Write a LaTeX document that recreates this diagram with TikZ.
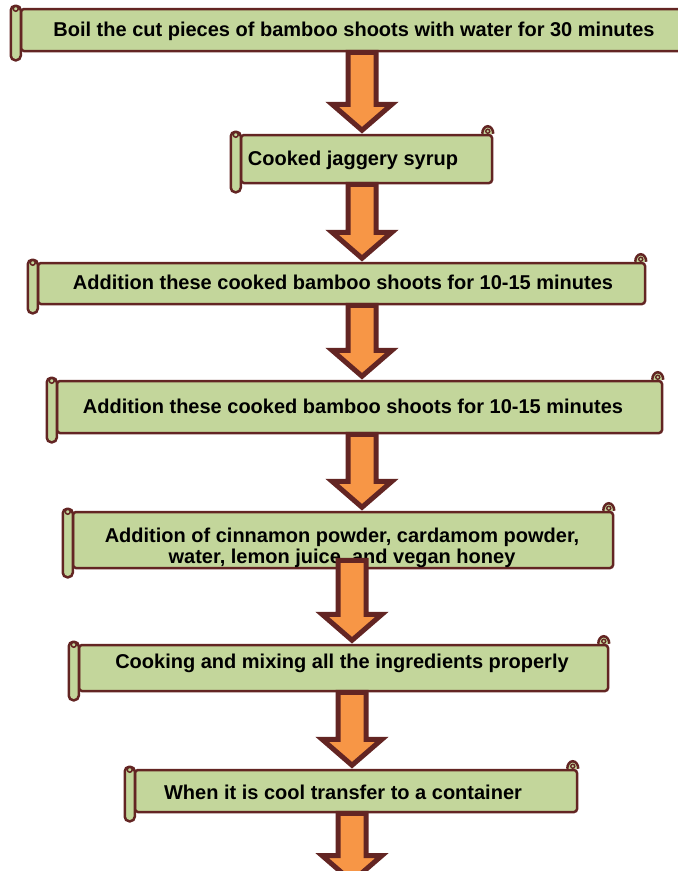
\documentclass[tikz,border=0pt]{standalone}
\usepackage{fontspec}
\setmainfont{Liberation Sans}
\usetikzlibrary{calc}
\definecolor{scrollgreen}{HTML}{C3D69B}
\definecolor{scrollbrown}{HTML}{632523}
\definecolor{arroworange}{HTML}{F79646}
\tikzset{
  scrollbody/.style={draw=scrollbrown, fill=scrollgreen, line width=2.5pt, rounded corners=3pt, inner sep=0pt},
  scrollpart/.style={draw=scrollbrown, fill=scrollgreen, line width=2.5pt},
  steptext/.style={font=\bfseries\fontsize{20}{21.5}\selectfont, align=center, inner sep=0pt},
  flowarrow/.style={draw=scrollbrown, fill=arroworange, line width=5pt, line join=miter}
}
\newcommand\scrollends[1]{%
  \path[scrollpart, rounded corners=4.5pt] let \p1=(#1.north west), \p2=(#1.south west) in
    (\x1-9pt,\y1+2pt) rectangle (\x1+1pt,\y2-8pt);
  \path[draw=scrollbrown, line width=1.5pt] let \p1=(#1.north west) in
    (\x1-4pt,\y1-1pt) circle[radius=2.5pt];
  \path[scrollpart] let \p3=(#1.north east) in
    (\x3-11pt,\y3) arc[start angle=180, end angle=0, x radius=5.5pt, y radius=7.5pt];
  \path[draw=scrollbrown, line width=1.4pt] let \p3=(#1.north east) in
    (\x3-5.5pt,\y3+2.5pt) circle[radius=2pt];
}
\newcommand\flowarrow[2]{%
  \path[flowarrow] let \p1=(#1), \p2=(#2) in
    (\x1-14pt,\y1) -- (\x1+14pt,\y1) -- (\x1+14pt,\y2+29.5pt) -- (\x1+30pt,\y2+29.5pt)
    -- (\x1,\y2+3.5pt) -- (\x1-30pt,\y2+29.5pt) -- (\x1-14pt,\y2+29.5pt) -- cycle;
}
\begin{document}
\begin{tikzpicture}[x=1pt,y=-1pt]
\useasboundingbox (0,0) rectangle (678,871);

\node[scrollbody, minimum width=679pt, minimum height=42pt] (b1) at (360.5,30) {};
\scrollends{b1}
\node[steptext] (t1) at (354,31.5) {Boil the cut pieces of bamboo shoots with water for 30 minutes};

\node[scrollbody, minimum width=251pt, minimum height=48pt] (b2) at (366.5,159) {};
\scrollends{b2}
\node[steptext] (t2) at (353,160.5) {Cooked jaggery syrup};

\node[scrollbody, minimum width=607pt, minimum height=41pt] (b3) at (341.5,283.5) {};
\scrollends{b3}
\node[steptext] (t3) at (343,282.5) {Addition these cooked bamboo shoots for 10-15 minutes};

\node[scrollbody, minimum width=605pt, minimum height=52pt] (b4) at (359.5,407) {};
\scrollends{b4}
\node[steptext] (t4) at (353,406.5) {Addition these cooked bamboo shoots for 10-15 minutes};

\node[scrollbody, minimum width=540pt, minimum height=56pt] (b5) at (343,540) {};
\scrollends{b5}
\node[steptext] (t5) at (342,548) {Addition of cinnamon powder, cardamom powder,\\ water, lemon juice, and vegan honey};

\node[scrollbody, minimum width=529pt, minimum height=46pt] (b6) at (343.5,668) {};
\scrollends{b6}
\node[steptext] (t6) at (342,663.5) {Cooking and mixing all the ingredients properly};

\node[scrollbody, minimum width=442pt, minimum height=42pt] (b7) at (356,791) {};
\scrollends{b7}
\node[steptext] (t7) at (343,792.5) {When it is cool transfer to a container};

\coordinate (a7end) at (352,885);

\flowarrow{362,0 |- b1.south}{362,0 |- b2.north}
\flowarrow{362,0 |- b2.south}{362,0 |- b3.north}
\flowarrow{362,0 |- b3.south}{362,0 |- b4.north}
\flowarrow{362,0 |- b4.south}{362,0 |- b5.north}
\flowarrow{$(352,0 |- b5.south)+(0,-9)$}{352,0 |- b6.north}
\flowarrow{352,0 |- b6.south}{352,0 |- b7.north}
\flowarrow{352,0 |- b7.south}{a7end}
\end{tikzpicture}
\end{document}
